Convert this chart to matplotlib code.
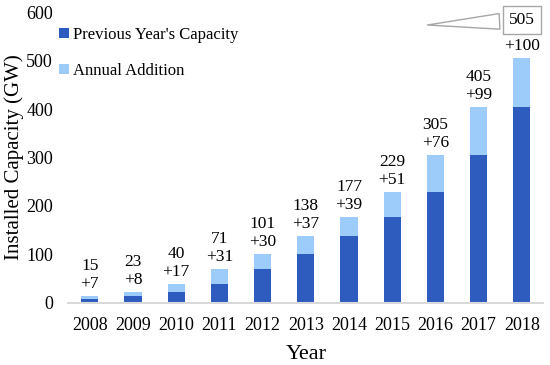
import numpy as np
import matplotlib.pyplot as plt

plt.rcParams['font.family'] = ['Liberation Serif', 'DejaVu Serif']

years = ['2008', '2009', '2010', '2011', '2012', '2013', '2014', '2015', '2016', '2017', '2018']
totals = [15, 23, 40, 71, 101, 138, 177, 229, 305, 405, 505]
additions = [7, 8, 17, 31, 30, 37, 39, 51, 76, 99, 100]
previous = [t - a for t, a in zip(totals, additions)]

dark = '#2E5BBE'
light = '#9DCBFA'

fig = plt.figure(figsize=(5.5, 3.65), dpi=100)
ax = fig.add_axes([0.124, 0.170, 0.864, 0.797])

x = np.arange(len(years))
ax.bar(x, previous, width=0.4, color=dark, label="Previous Year's Capacity")
ax.bar(x, additions, width=0.4, bottom=previous, color=light, label='Annual Addition')

# labels over bars
for i in range(len(years)):
    if i == len(years) - 1:
        ax.text(x[i], totals[i] + 8, '+%d' % additions[i], ha='center', va='bottom', fontsize=12.5)
    else:
        ax.text(x[i], totals[i] + 8, '%d\n+%d' % (totals[i], additions[i]),
                ha='center', va='bottom', fontsize=12.5, linespacing=1.15)

# callout for last total
ax.annotate(str(totals[-1]), xy=(7.75, 573), xytext=(x[-1], 583),
            ha='center', va='center', fontsize=12.5,
            bbox=dict(boxstyle='square,pad=0.35', fc='white', ec='#A6A6A6', lw=1),
            arrowprops=dict(arrowstyle='wedge,tail_width=0.9', fc='white', ec='#A6A6A6', lw=1))

ax.set_xlim(-0.5, len(years) - 0.5)
ax.set_ylim(0, 600)
ax.set_yticks(range(0, 601, 100))
ax.set_xticks(x)
ax.set_xticklabels(years)
ax.tick_params(length=0, labelsize=13)
ax.tick_params(axis='x', pad=10)
ax.tick_params(axis='y', pad=11)
for s in ['top', 'right', 'left']:
    ax.spines[s].set_visible(False)
ax.spines['bottom'].set_color('#D9D9D9')
ax.spines['bottom'].set_linewidth(1.5)

ax.set_xlabel('Year', fontsize=16, labelpad=8)
ax.set_ylabel('Installed Capacity (GW)', fontsize=15)
ax.yaxis.set_label_coords(-0.092, 0.5)

ax.legend(loc='upper left', bbox_to_anchor=(-0.05, 1.0), frameon=False, fontsize=12,
          handlelength=0.6, handleheight=0.6, handletextpad=0.2, labelspacing=1.2)

fig.savefig('out.png', dpi=100)
